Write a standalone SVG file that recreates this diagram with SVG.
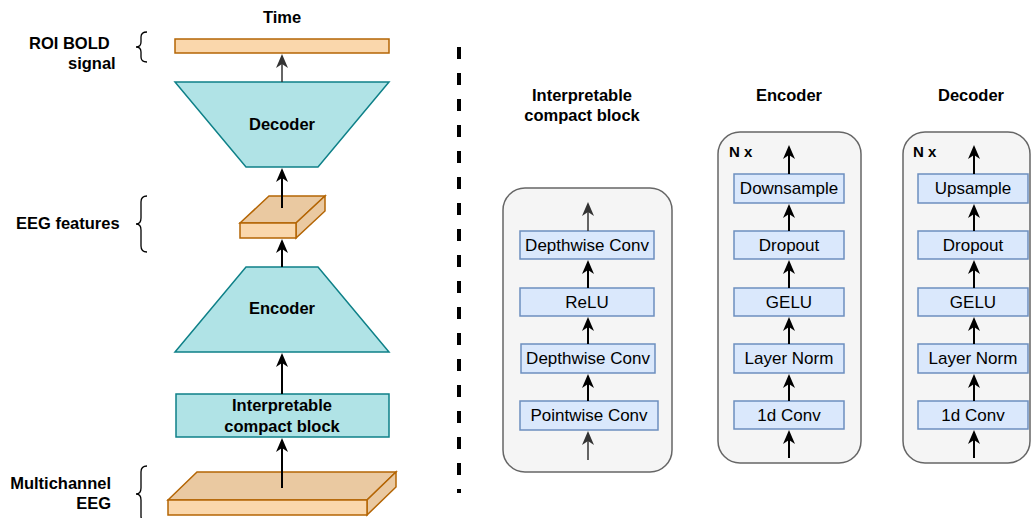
<svg xmlns="http://www.w3.org/2000/svg" width="1031" height="518" viewBox="0 0 1031 518">
<style>
text{font-family:"Liberation Sans",Arial,sans-serif;fill:#000}
.b{font-weight:bold;font-size:16.5px}
.r{font-size:17px}
.nx{font-weight:bold;font-size:15px}
.or{fill:#fad7ac;stroke:#b46504;stroke-width:1.5}
.ord{fill:#eac9a1;stroke:#b46504;stroke-width:1.5}
.teal{fill:#b0e3e6;stroke:#0e8088;stroke-width:1.5}
.panel{fill:#f5f5f5;stroke:#666666;stroke-width:1.5}
.box{fill:#dae8fc;stroke:#6c8ebf;stroke-width:1.5}
.brace{fill:none;stroke:#000;stroke-width:1.3}
.a{stroke:#000;stroke-width:2;fill:none;marker-end:url(#ah)}
.g{stroke:#333333;stroke-width:1.5;fill:none;marker-end:url(#ahg)}
</style>
<defs>
<marker id="ah" viewBox="0 0 14 12" refX="4" refY="6" markerWidth="14" markerHeight="12" markerUnits="userSpaceOnUse" orient="auto">
<path d="M0,0 L14,6 L0,12 L4,6 z" fill="#000"/>
</marker>
<marker id="ahg" viewBox="0 0 14 12" refX="4" refY="6" markerWidth="14" markerHeight="12" markerUnits="userSpaceOnUse" orient="auto">
<path d="M0,0 L14,6 L0,12 L4,6 z" fill="#333333"/>
</marker>
</defs>

<!-- Left column -->
<g id="time-label"><text class="b" x="282" y="23" text-anchor="middle">Time</text></g>

<g id="roi-bold">
<rect class="or" x="175" y="39" width="214" height="14"/>
<path class="brace" d="M147,32 Q141,32 141,37 L141,42 Q141,47 136,47 Q141,47 141,52 L141,57 Q141,62 147,62"/>
<text class="b" x="29" y="49">ROI BOLD</text>
<text class="b" x="68" y="69">signal</text>
</g>

<g id="decoder">
<polygon class="teal" points="175,82 389,82 318,167 246,167"/>
<text class="b" x="282" y="130" text-anchor="middle">Decoder</text>
</g>

<g id="eeg-features">
<polygon class="ord" points="240,223 269,196 325,196 296,223"/>
<polygon class="ord" points="296,223 325,196 325,211 296,238"/>
<rect class="or" x="240" y="223" width="56" height="15"/>
<path class="brace" d="M147,196 Q141,196 141,202 L141,218 Q141,224 136,224 Q141,224 141,230 L141,246 Q141,252 147,252"/>
<text class="b" x="16" y="229">EEG features</text>
</g>

<g id="encoder">
<polygon class="teal" points="246,267 318,267 389,352 175,352"/>
<text class="b" x="282" y="314" text-anchor="middle">Encoder</text>
</g>

<g id="interpretable-block">
<rect class="teal" x="176" y="394" width="213" height="43"/>
<text class="b" x="282" y="411" text-anchor="middle">Interpretable</text>
<text class="b" x="282" y="432" text-anchor="middle">compact block</text>
</g>

<g id="multichannel-eeg">
<polygon class="ord" points="168,500 197,472 396,472 367,500"/>
<polygon class="ord" points="367,500 396,472 396,487 367,515"/>
<rect class="or" x="168" y="500" width="199" height="15"/>
<path class="brace" d="M147,466 Q141,466 141,472 L141,488 Q141,494 136,494 Q141,494 141,500 L141,516 Q141,522 147,522"/>
<text class="b" x="111" y="489" text-anchor="end">Multichannel</text>
<text class="b" x="111" y="509" text-anchor="end">EEG</text>
</g>

<g id="separator">
<line x1="459" y1="47" x2="459" y2="493" stroke="#000" stroke-width="4" stroke-dasharray="12 14"/>
</g>

<!-- Right: interpretable compact block panel -->
<g id="panel-icb">
<text class="b" x="582" y="101" text-anchor="middle">Interpretable</text>
<text class="b" x="582" y="121" text-anchor="middle">compact block</text>
<rect class="panel" x="503" y="188" width="169" height="284" rx="22"/>
</g>
<g id="icb-depthwise2"><rect class="box" x="520" y="231" width="134" height="28"/><text class="r" x="587" y="251" text-anchor="middle">Depthwise Conv</text></g>
<g id="icb-relu"><rect class="box" x="520" y="288" width="134" height="28"/><text class="r" x="587" y="308" text-anchor="middle">ReLU</text></g>
<g id="icb-depthwise1"><rect class="box" x="521" y="344" width="134" height="29"/><text class="r" x="588" y="364" text-anchor="middle">Depthwise Conv</text></g>
<g id="icb-pointwise"><rect class="box" x="520" y="401" width="138" height="29"/><text class="r" x="589" y="421" text-anchor="middle">Pointwise Conv</text></g>

<!-- Right: encoder panel -->
<g id="panel-encoder">
<text class="b" x="789" y="101" text-anchor="middle">Encoder</text>
<rect class="panel" x="718" y="132" width="143" height="331" rx="22"/>
<text class="nx" x="729" y="157">N x</text>
</g>
<g id="enc-downsample"><rect class="box" x="734" y="174" width="110" height="29"/><text class="r" x="789" y="194" text-anchor="middle">Downsample</text></g>
<g id="enc-dropout"><rect class="box" x="734" y="231" width="110" height="28"/><text class="r" x="789" y="251" text-anchor="middle">Dropout</text></g>
<g id="enc-gelu"><rect class="box" x="734" y="288" width="110" height="28"/><text class="r" x="789" y="308" text-anchor="middle">GELU</text></g>
<g id="enc-layernorm"><rect class="box" x="734" y="344" width="110" height="29"/><text class="r" x="789" y="364" text-anchor="middle">Layer Norm</text></g>
<g id="enc-conv"><rect class="box" x="734" y="401" width="110" height="28"/><text class="r" x="789" y="421" text-anchor="middle">1d Conv</text></g>

<!-- Right: decoder panel -->
<g id="panel-decoder">
<text class="b" x="971" y="101" text-anchor="middle">Decoder</text>
<rect class="panel" x="903" y="132" width="127" height="331" rx="22"/>
<text class="nx" x="913" y="157">N x</text>
</g>
<g id="dec-upsample"><rect class="box" x="918" y="174" width="110" height="29"/><text class="r" x="973" y="194" text-anchor="middle">Upsample</text></g>
<g id="dec-dropout"><rect class="box" x="918" y="231" width="110" height="28"/><text class="r" x="973" y="251" text-anchor="middle">Dropout</text></g>
<g id="dec-gelu"><rect class="box" x="918" y="288" width="110" height="28"/><text class="r" x="973" y="308" text-anchor="middle">GELU</text></g>
<g id="dec-layernorm"><rect class="box" x="918" y="344" width="110" height="29"/><text class="r" x="973" y="364" text-anchor="middle">Layer Norm</text></g>
<g id="dec-conv"><rect class="box" x="918" y="401" width="110" height="28"/><text class="r" x="973" y="421" text-anchor="middle">1d Conv</text></g>

<!-- Connectors: line ends 10px before the tip -->
<g id="connectors">
<line class="g" x1="282" y1="82" x2="282" y2="64"/>
<line class="a" x1="282" y1="208" x2="282" y2="178"/>
<line class="a" x1="282" y1="267" x2="282" y2="249"/>
<line class="a" x1="282" y1="394" x2="282" y2="363"/>
<line class="a" x1="282" y1="488" x2="282" y2="448"/>

<line class="g" x1="588" y1="231" x2="588" y2="212"/>
<line class="a" x1="588" y1="288" x2="588" y2="270"/>
<line class="a" x1="588" y1="344" x2="588" y2="327"/>
<line class="a" x1="588" y1="401" x2="588" y2="384"/>
<line class="g" x1="588" y1="460" x2="588" y2="441"/>

<line class="a" x1="789" y1="174" x2="789" y2="155"/>
<line class="a" x1="789" y1="231" x2="789" y2="214"/>
<line class="a" x1="789" y1="288" x2="789" y2="270"/>
<line class="a" x1="789" y1="344" x2="789" y2="327"/>
<line class="a" x1="789" y1="401" x2="789" y2="384"/>
<line class="a" x1="789" y1="458" x2="789" y2="440"/>

<line class="a" x1="974" y1="174" x2="974" y2="155"/>
<line class="a" x1="974" y1="231" x2="974" y2="214"/>
<line class="a" x1="974" y1="288" x2="974" y2="270"/>
<line class="a" x1="974" y1="344" x2="974" y2="327"/>
<line class="a" x1="974" y1="401" x2="974" y2="384"/>
<line class="a" x1="974" y1="458" x2="974" y2="440"/>
</g>
</svg>
